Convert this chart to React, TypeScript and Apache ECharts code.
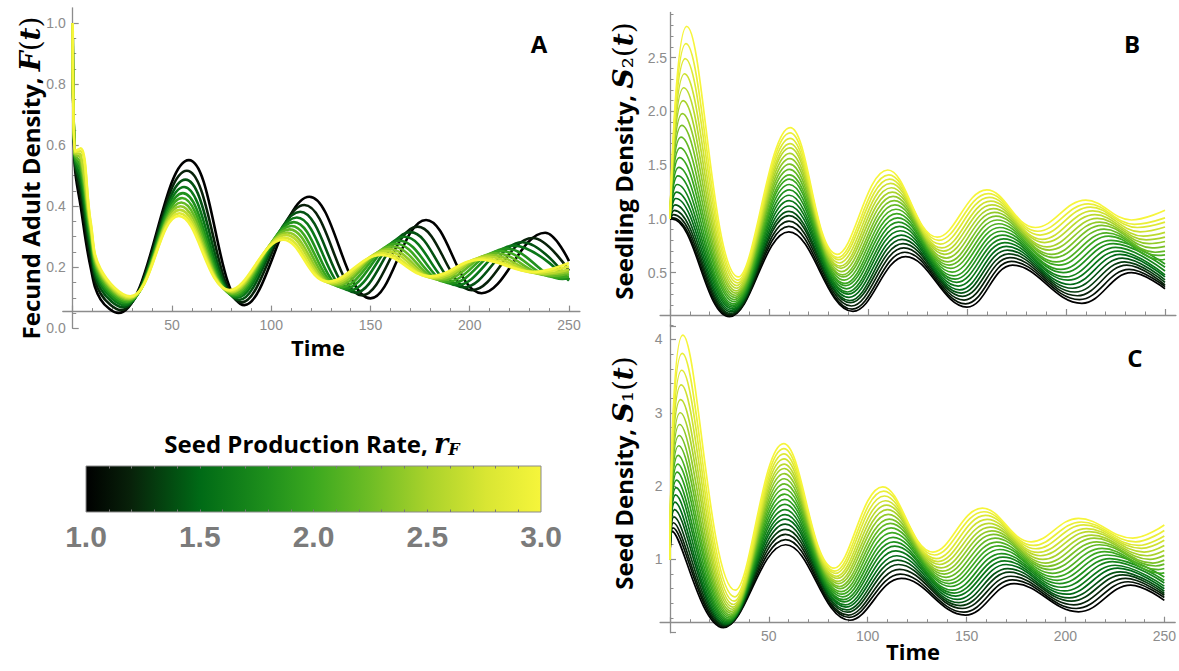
import React, { useEffect, useRef } from 'react';
import * as echarts from 'echarts';

// r_F values of the plotted curves
const rA = [1.0, 1.2, 1.4, 1.6, 1.8, 2.0, 2.2, 2.4, 2.6, 2.8, 3.0];
const rBC = [1.0, 1.1, 1.2, 1.3, 1.4, 1.5, 1.6, 1.7, 1.8, 1.9, 2.0, 2.1, 2.2, 2.3, 2.4, 2.5, 2.6, 2.7, 2.8, 2.9, 3.0];

// Panel A: fecund adult density F(t), one [time, value] list per r_F
const adultDensity: number[][][] = [
  [[0,1],[1,0.54],[4,0.40],[9,0.20],[14,0.095],[23,0.05],[58.5,0.551],[86.5,0.076],[119.2,0.431],[150,0.098],[178,0.355],[206,0.115],[238,0.313],[250,0.22]],
  [[0,1],[1,0.548],[4,0.436],[9,0.229],[14,0.114],[24.1,0.06],[57.5,0.516],[85.1,0.085],[116.7,0.404],[145.9,0.108],[173.7,0.333],[201.1,0.125],[231.7,0.296],[250,0.189]],
  [[0,1],[1,0.554],[4,0.467],[9,0.253],[14,0.13],[25.1,0.069],[56.8,0.487],[83.9,0.093],[114.6,0.382],[142.5,0.117],[170.1,0.315],[196.9,0.134],[226.5,0.282],[250,0.16]],
  [[0,1],[1,0.559],[4,0.491],[9,0.272],[14,0.143],[25.9,0.076],[56.1,0.463],[82.9,0.1],[112.9,0.363],[139.7,0.124],[167.2,0.3],[193.5,0.141],[222.2,0.271],[250,0.156]],
  [[0,1],[1,0.564],[4,0.512],[9,0.289],[14,0.154],[26.5,0.082],[55.5,0.443],[82.1,0.105],[111.4,0.348],[137.3,0.13],[164.7,0.287],[190.7,0.147],[218.5,0.261],[246.8,0.162],[250,0.163]],
  [[0,1],[1,0.567],[4,0.529],[9,0.302],[14,0.163],[27.1,0.087],[55.1,0.427],[81.4,0.109],[110.2,0.335],[135.4,0.135],[162.7,0.277],[188.3,0.152],[215.6,0.253],[243.5,0.167],[250,0.17]],
  [[0,1],[1,0.57],[4,0.544],[9,0.314],[14,0.171],[27.6,0.092],[54.7,0.412],[80.8,0.113],[109.2,0.324],[133.7,0.14],[160.9,0.268],[186.2,0.157],[212.9,0.246],[240.6,0.172],[250,0.178]],
  [[0,1],[1,0.573],[4,0.558],[9,0.325],[14,0.178],[28,0.096],[54.3,0.4],[80.3,0.117],[108.2,0.314],[132.2,0.144],[159.3,0.26],[184.4,0.161],[210.6,0.24],[238.1,0.176],[250,0.185]],
  [[0,1],[1,0.576],[4,0.569],[9,0.334],[14,0.184],[28.3,0.099],[54,0.388],[79.8,0.12],[107.5,0.306],[130.9,0.147],[158,0.253],[182.9,0.164],[208.6,0.235],[236,0.179],[250,0.193]],
  [[0,1],[1,0.578],[4,0.58],[9,0.343],[14,0.19],[28.7,0.102],[53.8,0.377],[79.4,0.123],[106.7,0.297],[129.6,0.15],[156.6,0.246],[181.3,0.167],[206.7,0.229],[233.8,0.182],[250,0.203]],
  [[0,1],[1,0.58],[4,0.59],[9,0.35],[14,0.195],[29,0.105],[53.5,0.368],[79,0.125],[106,0.29],[128.5,0.153],[155.5,0.24],[180,0.17],[205,0.225],[232,0.185],[250,0.214]],
];

// Panel B: seedling density S2(t)
const seedlingDensity: number[][][] = [
  [[0,1],[1,1],[30,0.09],[60,0.88],[92.4,0.14],[119,0.65],[150,0.18],[173,0.57],[208,0.215],[233,0.5],[250,0.35]],
  [[0,1],[1.4,1.01],[30.2,0.1],[60,0.93],[92,0.16],[118.6,0.69],[149.3,0.21],[172.4,0.605],[206.8,0.25],[231.9,0.53],[250,0.37]],
  [[0,1],[1.75,1.04],[30.5,0.11],[60.1,0.98],[91.6,0.19],[118.1,0.73],[148.5,0.245],[171.7,0.64],[205.7,0.285],[230.7,0.57],[250,0.385]],
  [[0,1],[2.1,1.08],[30.7,0.12],[60.1,1.03],[91.2,0.22],[117.7,0.77],[147.8,0.28],[171.1,0.675],[204.5,0.32],[229.6,0.6],[250,0.41]],
  [[0,1],[2.5,1.13],[30.9,0.135],[60.1,1.07],[90.8,0.24],[117.2,0.81],[147,0.31],[170.4,0.71],[203.3,0.355],[228.4,0.635],[250,0.433]],
  [[0,1],[2.9,1.19],[31.1,0.15],[60.2,1.12],[90.4,0.27],[116.8,0.85],[146.3,0.34],[169.8,0.745],[202.1,0.39],[227.3,0.67],[250,0.46]],
  [[0,1],[3.25,1.25],[31.4,0.165],[60.2,1.17],[90,0.3],[116.3,0.89],[145.5,0.375],[169.1,0.78],[201,0.43],[226.1,0.7],[250,0.48]],
  [[0,1],[3.6,1.32],[31.6,0.18],[60.2,1.22],[89.6,0.32],[115.9,0.93],[144.8,0.41],[168.5,0.815],[199.8,0.46],[225,0.735],[250,0.515]],
  [[0,1],[4,1.4],[31.8,0.195],[60.3,1.27],[89.2,0.35],[115.4,0.97],[144,0.44],[167.8,0.85],[198.6,0.5],[223.8,0.77],[250,0.55]],
  [[0,1],[4.4,1.48],[32,0.21],[60.3,1.32],[88.8,0.38],[115,1.01],[143.3,0.47],[167.2,0.885],[197.4,0.53],[222.7,0.8],[250,0.58]],
  [[0,1],[4.75,1.57],[32.3,0.23],[60.35,1.37],[88.4,0.4],[114.5,1.05],[142.5,0.505],[166.5,0.92],[196.3,0.57],[221.5,0.84],[248,0.62],[250,0.625]],
  [[0,1],[5.1,1.66],[32.5,0.25],[60.4,1.41],[88,0.43],[114.1,1.09],[141.8,0.54],[165.9,0.955],[195.1,0.6],[220.4,0.87],[246.5,0.66],[250,0.665]],
  [[0,1],[5.5,1.76],[32.7,0.27],[60.4,1.46],[87.6,0.46],[113.6,1.13],[141,0.57],[165.2,0.99],[193.9,0.64],[219.2,0.905],[245,0.69],[250,0.7]],
  [[0,1],[5.9,1.87],[32.9,0.29],[60.45,1.51],[87.2,0.48],[113.2,1.17],[140.3,0.6],[164.6,1.025],[192.7,0.67],[218.1,0.94],[243.5,0.73],[250,0.745]],
  [[0,1],[6.25,1.98],[33.2,0.31],[60.5,1.56],[86.8,0.51],[112.7,1.21],[139.5,0.635],[163.9,1.06],[191.6,0.71],[216.9,0.97],[242,0.77],[250,0.79]],
  [[0,1],[6.6,2.1],[33.4,0.33],[60.5,1.61],[86.4,0.54],[112.3,1.25],[138.8,0.67],[163.3,1.095],[190.4,0.74],[215.8,1.005],[240.5,0.805],[250,0.83]],
  [[0,1],[7,2.22],[33.6,0.355],[60.55,1.66],[86,0.56],[111.8,1.29],[138,0.7],[162.6,1.13],[189.2,0.78],[214.6,1.04],[239,0.84],[250,0.875]],
  [[0,1],[7.4,2.35],[33.8,0.38],[60.6,1.7],[85.6,0.59],[111.4,1.33],[137.3,0.73],[162,1.165],[188,0.81],[213.5,1.075],[237.5,0.88],[250,0.925]],
  [[0,1],[7.75,2.49],[34.1,0.405],[60.6,1.75],[85.2,0.62],[110.9,1.37],[136.5,0.765],[161.3,1.2],[186.9,0.85],[212.3,1.11],[236,0.92],[250,0.97]],
  [[0,1],[8.1,2.63],[34.3,0.43],[60.65,1.8],[84.8,0.64],[110.5,1.41],[135.8,0.8],[160.7,1.235],[185.7,0.885],[211.2,1.14],[234.5,0.95],[250,1.01]],
  [[0,1],[8.5,2.79],[34.5,0.46],[60.7,1.85],[84.4,0.67],[110,1.455],[135,0.83],[160,1.27],[184.5,0.92],[210,1.175],[233,0.99],[250,1.08]],
];

// Panel C: seed density S1(t)
const seedDensity: number[][][] = [
  [[0,1],[1.2,1.38],[27,0.07],[58.5,1.2],[91,0.17],[117,0.74],[149.4,0.24],[174,0.67],[206.6,0.285],[233,0.65],[250,0.44]],
  [[0,1],[1.5,1.43],[27.3,0.08],[58.45,1.27],[90.6,0.21],[116.5,0.8],[148.6,0.28],[173.2,0.72],[205.4,0.33],[231.7,0.695],[250,0.48]],
  [[0,1],[1.7,1.5],[27.6,0.09],[58.4,1.34],[90.2,0.24],[116.1,0.865],[147.8,0.33],[172.4,0.77],[204.2,0.38],[230.4,0.74],[250,0.51]],
  [[0,1],[2,1.58],[27.9,0.1],[58.35,1.41],[89.8,0.28],[115.6,0.93],[146.9,0.37],[171.6,0.825],[203,0.43],[229,0.79],[250,0.535]],
  [[0,1],[2.3,1.68],[28.2,0.11],[58.3,1.48],[89.4,0.31],[115.1,0.99],[146.1,0.41],[170.8,0.875],[201.8,0.475],[227.7,0.83],[250,0.565]],
  [[0,1],[2.5,1.78],[28.5,0.12],[58.25,1.55],[89,0.35],[114.7,1.05],[145.3,0.455],[170,0.93],[200.6,0.525],[226.4,0.88],[250,0.6]],
  [[0,1],[2.8,1.88],[28.8,0.135],[58.2,1.61],[88.6,0.38],[114.2,1.115],[144.5,0.5],[169.2,0.98],[199.4,0.57],[225.1,0.92],[250,0.635]],
  [[0,1],[3.1,1.98],[29.1,0.15],[58.15,1.68],[88.2,0.42],[113.7,1.18],[143.7,0.54],[168.4,1.03],[198.2,0.62],[223.8,0.97],[250,0.677]],
  [[0,1],[3.3,2.08],[29.4,0.165],[58.1,1.75],[87.8,0.45],[113.2,1.24],[142.8,0.58],[167.6,1.08],[197,0.67],[222.4,1.01],[250,0.712]],
  [[0,1],[3.6,2.19],[29.7,0.18],[58.05,1.82],[87.4,0.49],[112.8,1.3],[142,0.63],[166.8,1.135],[195.8,0.715],[221.1,1.06],[250,0.76]],
  [[0,1],[3.9,2.3],[30,0.2],[58,1.89],[87,0.525],[112.3,1.365],[141.2,0.67],[166,1.185],[194.6,0.76],[219.8,1.105],[248.5,0.81],[250,0.815]],
  [[0,1],[4.1,2.42],[30.3,0.22],[57.95,1.96],[86.6,0.56],[111.8,1.43],[140.4,0.71],[165.2,1.235],[193.4,0.81],[218.5,1.15],[247,0.86],[250,0.875]],
  [[0,1],[4.4,2.55],[30.6,0.24],[57.9,2.03],[86.2,0.6],[111.4,1.49],[139.6,0.755],[164.4,1.29],[192.2,0.86],[217.2,1.2],[245.6,0.91],[250,0.935]],
  [[0,1],[4.6,2.69],[30.9,0.265],[57.85,2.1],[85.8,0.63],[110.9,1.55],[138.7,0.8],[163.6,1.34],[191,0.905],[215.8,1.24],[244.2,0.95],[250,0.99]],
  [[0,1],[4.9,2.84],[31.2,0.29],[57.8,2.17],[85.4,0.67],[110.4,1.615],[137.9,0.84],[162.8,1.39],[189.8,0.95],[214.5,1.29],[242.7,1],[250,1.055]],
  [[0,1],[5.2,3],[31.5,0.32],[57.75,2.24],[85,0.7],[110,1.68],[137.1,0.885],[162,1.44],[188.6,1],[213.2,1.33],[241.3,1.05],[250,1.12]],
  [[0,1],[5.4,3.18],[31.8,0.35],[57.7,2.3],[84.6,0.74],[109.5,1.74],[136.3,0.93],[161.2,1.49],[187.4,1.05],[211.9,1.38],[239.8,1.1],[250,1.19]],
  [[0,1],[5.7,3.38],[32.1,0.385],[57.65,2.37],[84.2,0.77],[109,1.8],[135.5,0.97],[160.4,1.545],[186.2,1.095],[210.6,1.42],[238.4,1.15],[250,1.26]],
  [[0,1],[6,3.58],[32.4,0.43],[57.6,2.44],[83.8,0.81],[108.5,1.865],[134.6,1.01],[159.6,1.6],[185,1.145],[209.2,1.47],[236.9,1.19],[250,1.32]],
  [[0,1],[6.2,3.81],[32.7,0.49],[57.55,2.51],[83.4,0.84],[108.1,1.93],[133.8,1.06],[158.8,1.65],[183.8,1.19],[207.9,1.51],[235.5,1.24],[250,1.395]],
  [[0,1],[6.5,4.06],[33,0.58],[57.5,2.58],[83,0.88],[107.6,1.99],[133,1.1],[158,1.7],[182.6,1.24],[206.6,1.56],[234,1.29],[250,1.47]],
];

// Tick positions / labels
const xMajorTicks = [0, 50, 100, 150, 200, 250];
const xLabelTicks = [50, 100, 150, 200, 250];
const xMinorTicks = [10, 20, 30, 40, 60, 70, 80, 90, 110, 120, 130, 140, 160, 170, 180, 190, 210, 220, 230, 240];
const yTicksA = [0, 0.2, 0.4, 0.6, 0.8, 1.0];
const yMinorA = [0.05, 0.1, 0.15, 0.25, 0.3, 0.35, 0.45, 0.5, 0.55, 0.65, 0.7, 0.75, 0.85, 0.9, 0.95];
const yTicksB = [0, 0.5, 1.0, 1.5, 2.0, 2.5];
const yLabelsB = [0.5, 1.0, 1.5, 2.0, 2.5];
const yMinorB = [0.1, 0.2, 0.3, 0.4, 0.6, 0.7, 0.8, 0.9, 1.1, 1.2, 1.3, 1.4, 1.6, 1.7, 1.8, 1.9, 2.1, 2.2, 2.3, 2.4, 2.6, 2.7, 2.8, 2.9];
const yTicksC = [0, 1, 2, 3, 4];
const yLabelsC = [1, 2, 3, 4];
const yMinorC = [0.2, 0.4, 0.6, 0.8, 1.2, 1.4, 1.6, 1.8, 2.2, 2.4, 2.6, 2.8, 3.2, 3.4, 3.6, 3.8, 4.2];
const colorbarLabels = [1.0, 1.5, 2.0, 2.5, 3.0];
const colorbarTicks = [1.1, 1.2, 1.3, 1.4, 1.5, 1.6, 1.7, 1.8, 1.9, 2.0, 2.1, 2.2, 2.3, 2.4, 2.5, 2.6, 2.7, 2.8, 2.9];

// Colour scale (black -> green -> yellow)
const STOPS: [number, number[]][] = [
  [0, [0, 0, 0]],
  [0.1, [8, 34, 10]],
  [0.25, [0, 106, 22]],
  [0.4, [31, 144, 28]],
  [0.5, [59, 168, 31]],
  [0.62, [108, 188, 37]],
  [0.75, [169, 210, 43]],
  [0.88, [217, 230, 51]],
  [1, [246, 245, 59]],
];
function colorFor(r: number): string {
  const p = Math.max(0, Math.min(1, (r - 1) / 2));
  for (let i = 1; i < STOPS.length; i++) {
    const [o1, c1] = STOPS[i];
    const [o0, c0] = STOPS[i - 1];
    if (p <= o1) {
      const f = (p - o0) / (o1 - o0);
      const c = c0.map((v, j) => Math.round(v + (c1[j] - v) * f));
      return `rgb(${c[0]},${c[1]},${c[2]})`;
    }
  }
  return 'rgb(246,245,59)';
}

const GRAY = '#8c8c8c';
const LABEL_FONT = 'Liberation Sans';
const TITLE_FONT = 'Open Sans';
const MATH_FONT = 'DejaVu Serif';

function majorX(gridIndex: number, offset: number, showLabels: boolean) {
  return {
    type: 'value', gridIndex, min: -5, max: 255.5, position: 'bottom', offset,
    axisLine: { show: true, onZero: false, lineStyle: { color: GRAY, width: 1.3 } },
    axisTick: { show: true, inside: true, length: 6, customValues: xMajorTicks, lineStyle: { color: GRAY, width: 1.2 } },
    axisLabel: { show: showLabels, customValues: xLabelTicks, margin: 6, color: GRAY, fontSize: 14, fontFamily: LABEL_FONT },
    splitLine: { show: false },
  };
}
function minorX(gridIndex: number, offset: number) {
  return {
    type: 'value', gridIndex, min: -5, max: 255.5, position: 'bottom', offset,
    axisLine: { show: false, onZero: false },
    axisTick: { show: true, inside: true, length: 3.5, customValues: xMinorTicks, lineStyle: { color: GRAY, width: 1 } },
    axisLabel: { show: false },
    splitLine: { show: false },
  };
}
// label margin is measured from the grid's left edge because the axis line sits on t = 0
function majorY(gridIndex: number, max: number, ticks: number[], labels: number[], digits: number, margin: number) {
  return {
    type: 'value', gridIndex, min: 0, max, position: 'left',
    axisLine: { show: true, onZero: true, lineStyle: { color: GRAY, width: 1.3 } },
    axisTick: { show: true, inside: true, length: 6, customValues: ticks, lineStyle: { color: GRAY, width: 1.2 } },
    axisLabel: { show: true, customValues: labels, margin, color: GRAY, fontSize: 14, fontFamily: LABEL_FONT,
      formatter: (v: number) => v.toFixed(digits) },
    splitLine: { show: false },
  };
}
function minorY(gridIndex: number, max: number, ticks: number[]) {
  return {
    type: 'value', gridIndex, min: 0, max, position: 'left',
    axisLine: { show: false, onZero: true },
    axisTick: { show: true, inside: true, length: 3.5, customValues: ticks, lineStyle: { color: GRAY, width: 1 } },
    axisLabel: { show: false },
    splitLine: { show: false },
  };
}

function buildSeries(curves: number[][][], rs: number[], xIdx: number, yIdx: number, width: number) {
  return curves.map((curve, i) => ({
    type: 'line', name: `r=${rs[i].toFixed(1)}`, xAxisIndex: xIdx, yAxisIndex: yIdx,
    data: curve, showSymbol: false, symbol: 'none', smooth: 0.4, silent: true,
    lineStyle: { color: colorFor(rs[i]), width },
    z: 2,
  }));
}

const titleRich = {
  n: { fontFamily: TITLE_FONT, fontWeight: 'bold', fontSize: 24, fill: '#000' },
  mi: { fontFamily: MATH_FONT, fontStyle: 'italic', fontWeight: 'bold', fontSize: 28, fill: '#000' },
  mp: { fontFamily: MATH_FONT, fontWeight: 'normal', fontSize: 28, fill: '#000' },
};
const cbRich = {
  n: { fontFamily: TITLE_FONT, fontWeight: 'bold', fontSize: 24, fill: '#000' },
  mi: { fontFamily: MATH_FONT, fontStyle: 'italic', fontWeight: 'bold', fontSize: 27, fill: '#000' },
  sub: { fontFamily: MATH_FONT, fontStyle: 'italic', fontWeight: 'bold', fontSize: 16, fill: '#000', padding: [12, 0, 0, 0] },
};

function vTitle(x: number, y: number, text: string) {
  return {
    type: 'text', x, y, rotation: Math.PI / 2, silent: true,
    style: { text, rich: titleRich, align: 'center', verticalAlign: 'middle', textAlign: 'center', textVerticalAlign: 'middle' },
  };
}
function plainText(x: number, y: number, text: string, size: number) {
  return {
    type: 'text', x, y, silent: true,
    style: { text, fill: '#000', fontFamily: TITLE_FONT, fontWeight: 'bold', fontSize: size,
      align: 'center', verticalAlign: 'middle', textAlign: 'center', textVerticalAlign: 'middle' },
  };
}

export default function App() {
  const ref = useRef<HTMLDivElement>(null);
  useEffect(() => {
    document.body.style.margin = '0';
    if (!ref.current) return;
    const chart = echarts.init(ref.current, undefined, { renderer: 'svg' });
    const gradient = new echarts.graphic.LinearGradient(0, 0, 1, 0,
      STOPS.map(([o, c]) => ({ offset: o, color: `rgb(${c[0]},${c[1]},${c[2]})` })));
    const option: any = {
      animation: false,
      backgroundColor: '#ffffff',
      grid: [
        { left: 62.8, top: 7.8, width: 517.1, height: 320.5, containLabel: false },
        { left: 660.1, top: 12.5, width: 515.8, height: 313.9, containLabel: false },
        { left: 660.1, top: 324.8, width: 515.8, height: 307.9, containLabel: false },
        { left: 86, top: 466, width: 455, height: 46, containLabel: false },
      ],
      xAxis: [
        majorX(0, -16.7, true), minorX(0, -16.7),
        majorX(1, -11.4, false), minorX(1, -11.4),
        majorX(2, -10, true), minorX(2, -10),
        {
          type: 'value', gridIndex: 3, min: 1, max: 3, position: 'bottom', z: 5,
          axisLine: { show: false, onZero: false },
          axisTick: { show: true, inside: true, length: 2.5, customValues: colorbarTicks, lineStyle: { color: '#777' } },
          axisLabel: { show: true, customValues: colorbarLabels, margin: 9, color: '#7b7b7b', fontSize: 30,
            fontWeight: 'bold', fontFamily: LABEL_FONT, formatter: (v: number) => v.toFixed(1) },
          splitLine: { show: false },
        },
        {
          type: 'value', gridIndex: 3, min: 1, max: 3, position: 'top', z: 5,
          axisLine: { show: false, onZero: false },
          axisTick: { show: true, inside: true, length: 2.5, customValues: colorbarTicks, lineStyle: { color: '#777' } },
          axisLabel: { show: false },
          splitLine: { show: false },
        },
      ],
      yAxis: [
        majorY(0, 1.05, yTicksA, yTicksA, 1, -3), minorY(0, 1.05, yMinorA),
        majorY(1, 2.92, yTicksB, yLabelsB, 1, -7), minorY(1, 2.92, yMinorB),
        majorY(2, 4.2, yTicksC, yLabelsC, 0, -2.5), minorY(2, 4.2, yMinorC),
        { type: 'value', gridIndex: 3, min: 0, max: 1, show: false },
      ],
      series: [
        ...buildSeries(adultDensity, rA, 0, 0, 2.6),
        ...buildSeries(seedlingDensity, rBC, 2, 2, 1.7),
        ...buildSeries(seedDensity, rBC, 4, 4, 1.7),
      ],
      graphic: [
        {
          type: 'rect', z: 1, silent: true,
          shape: { x: 86, y: 466, width: 455, height: 46 },
          style: { fill: gradient, stroke: '#8a8a8a', lineWidth: 1 },
        },
        vTitle(30, 178, '{n|Fecund Adult Density, }{mi|F}{mp|(}{mi|t}{mp|)}'),
        vTitle(623, 161, '{n|Seedling Density, }{mi|S}{mp|₂(}{mi|t}{mp|)}'),
        vTitle(623, 473, '{n|Seed Density, }{mi|S}{mp|₁(}{mi|t}{mp|)}'),
        plainText(539, 43, 'A', 24),
        plainText(1132, 43, 'B', 24),
        plainText(1135, 357, 'C', 24),
        plainText(318, 347, 'Time', 22),
        plainText(913, 651, 'Time', 22),
        {
          type: 'text', x: 312, y: 443, silent: true,
          style: {
            text: '{n|Seed Production Rate, }{mi|r}{sub|F}', rich: cbRich,
            align: 'center', verticalAlign: 'middle', textAlign: 'center', textVerticalAlign: 'middle',
          },
        },
      ],
    };
    chart.setOption(option);
    return () => chart.dispose();
  }, []);
  return <div ref={ref} style={{ width: 1179, height: 671 }} />;
}
